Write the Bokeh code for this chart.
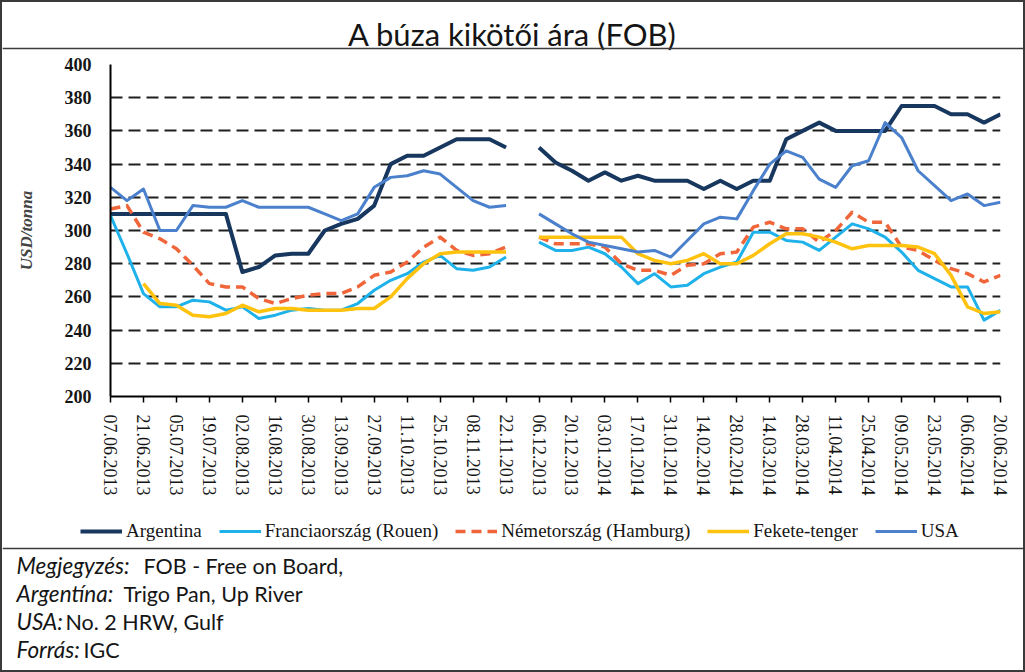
from bokeh.plotting import figure
from bokeh.layouts import column
from bokeh.models import (Range1d, FixedTicker, SingleIntervalTicker, Label, Legend,
                          LegendItem, Span, ColumnDataSource)
from bokeh.embed import file_html
from bokeh.resources import INLINE

nan = float("nan")

dates = [
    "07.06.2013", "14.06.2013", "21.06.2013", "28.06.2013", "05.07.2013", "12.07.2013",
    "19.07.2013", "26.07.2013", "02.08.2013", "09.08.2013", "16.08.2013", "23.08.2013",
    "30.08.2013", "06.09.2013", "13.09.2013", "20.09.2013", "27.09.2013", "04.10.2013",
    "11.10.2013", "18.10.2013", "25.10.2013", "01.11.2013", "08.11.2013", "15.11.2013",
    "22.11.2013", "29.11.2013", "06.12.2013", "13.12.2013", "20.12.2013", "27.12.2013",
    "03.01.2014", "10.01.2014", "17.01.2014", "24.01.2014", "31.01.2014", "07.02.2014",
    "14.02.2014", "21.02.2014", "28.02.2014", "07.03.2014", "14.03.2014", "21.03.2014",
    "28.03.2014", "04.04.2014", "11.04.2014", "18.04.2014", "25.04.2014", "02.05.2014",
    "09.05.2014", "16.05.2014", "23.05.2014", "30.05.2014", "06.06.2014", "13.06.2014",
    "20.06.2014",
]

argentina = [310, 310, 310, 310, 310, 310, 310, 310, 275, 278, 285, 286, 286, 300, 304,
             307, 315, 340, 345, 345, 350, 355, 355, 355, 350, nan, 350, 341, 336, 330,
             335, 330, 333, 330, 330, 330, 325, 330, 325, 330, 330, 355, 360, 365, 360,
             360, 360, 360, 375, 375, 375, 370, 370, 365, 370]

rouen = [309, 286, 262, 254, 254, 258, 257, 252, 254, 247, 249, 252, 253, 252, 252,
         256, 264, 270, 274, 281, 285, 277, 276, 278, 284, nan, 293, 288, 288, 290,
         286, 278, 268, 274, 266, 267, 274, 278, 281, 299, 299, 294, 293, 288, 296,
         304, 301, 296, 287, 276, 271, 266, 266, 246, 252]

hamburg = [313, 315, 299, 295, 289, 279, 268, 266, 266, 259, 256, 259, 261, 262, 262,
           266, 273, 275, 281, 290, 296, 288, 285, 286, 290, nan, 296, 292, 292, 292,
           290, 280, 276, 276, 273, 279, 280, 286, 287, 302, 305, 301, 301, 293, 300,
           311, 305, 305, 290, 288, 282, 277, 274, 269, 273]

fekete = [nan, nan, 268, 256, 255, 249, 248, 250, 255, 251, 253, 253, 252, 252, 252,
          253, 253, 260, 271, 280, 286, 287, 287, 287, 287, nan, 296, 296, 296, 296,
          296, 296, 286, 282, 280, 282, 286, 280, 280, 285, 292, 298, 298, 296, 293,
          289, 291, 291, 291, 290, 286, 273, 254, 250, 251]

usa = [326, 318, 325, 300, 300, 315, 314, 314, 318, 314, 314, 314, 314, 310, 306,
       310, 326, 332, 333, 336, 334, 326, 318, 314, 315, nan, 310, 304, 298, 293,
       291, 289, 287, 288, 284, 294, 304, 308, 307, 324, 340, 348, 344, 331, 326,
       339, 342, 365, 356, 336, 327, 318, 322, 315, 317]

series_names = ["Argentina", "Franciaország (Rouen)", "Németország (Hamburg)",
                "Fekete-tenger", "USA"]
series_colors = ["#17375E", "#1EB1EA", "#F0663A", "#FFC20E", "#4A80CC"]
series_widths = [4, 3, 3.5, 3.5, 3]
series_dashes = ["solid", "solid", "10 6", "solid", "solid"]

title_text = "A búza kikötői ára (FOB)"
y_label = "USD/tonna"
notes = [("Megjegyzés:", "FOB - Free on Board,"),
         ("Argentína:", "Trigo Pan, Up River"),
         ("USA:", "No. 2 HRW, Gulf"),
         ("Forrás:", "IGC")]

W = 1021
TEXT = "#151515"
RULE = "#3a3a3a"


def blank(height):
    f = figure(width=W, height=height, output_backend="svg", toolbar_location=None,
               x_range=Range1d(0, 1), y_range=Range1d(0, 1),
               x_axis_type=None, y_axis_type=None, frame_align=False,
               min_border_left=0, min_border_right=0, min_border_top=0, min_border_bottom=0)
    f.outline_line_color = None
    f.grid.visible = False
    f.background_fill_color = "white"
    f.border_fill_color = "white"
    return f


# ---------- title ----------
pt = blank(50)
pt.add_layout(Label(x=510, y=19, x_units="screen", y_units="screen", text=title_text,
                    text_align="center", text_baseline="middle", text_font="Lato",
                    text_font_size="31px", text_color=TEXT))
pt.add_layout(Span(location=4, dimension="width", location_units="screen",
                   line_color=RULE, line_width=1.5))

# ---------- chart ----------
x_idx = list(range(len(dates)))
src = ColumnDataSource(dict(x=x_idx, argentina=argentina, rouen=rouen, hamburg=hamburg,
                            fekete=fekete, usa=usa))

p = figure(width=W, height=448, output_backend="svg", toolbar_location=None,
           x_range=Range1d(x_idx[0], x_idx[-1]), y_range=Range1d(200, 400),
           frame_align=False,
           min_border_left=108, min_border_right=23, min_border_top=12,
           min_border_bottom=104)
p.background_fill_color = "white"
p.border_fill_color = "white"
p.outline_line_color = None

p.xgrid.visible = False
p.ygrid.grid_line_color = "#1f1f1f"
p.ygrid.grid_line_width = 2
p.ygrid.grid_line_dash = "12 6"
p.yaxis.ticker = SingleIntervalTicker(interval=20)

for ax in (p.xaxis[0], p.yaxis[0]):
    ax.axis_line_color = "black"
    ax.axis_line_width = 2
    ax.major_tick_line_color = "black"
    ax.major_tick_line_width = 1.5
    ax.minor_tick_line_color = None
    ax.major_label_text_color = TEXT

p.yaxis.major_tick_out = 0
p.yaxis.major_tick_in = 0
p.yaxis.major_label_text_font = "Liberation Serif"
p.yaxis.major_label_text_font_style = "bold"
p.yaxis.major_label_text_font_size = "18px"
p.yaxis.major_label_standoff = 15
p.yaxis.axis_label = y_label
p.yaxis.axis_label_text_font = "Liberation Serif"
p.yaxis.axis_label_text_font_style = "bold italic"
p.yaxis.axis_label_text_font_size = "17px"
p.yaxis.axis_label_standoff = 26

tick_pos = x_idx[::2]
p.xaxis.ticker = FixedTicker(ticks=tick_pos)
p.xaxis.major_label_overrides = {i: dates[i] for i in tick_pos}
p.xaxis.major_label_orientation = "vertical"
p.xaxis.major_tick_out = 6
p.xaxis.major_tick_in = 0
p.xaxis.major_label_standoff = 12
p.xaxis.major_label_text_font = "Liberation Serif"
p.xaxis.major_label_text_font_size = "18px"

keys = ["argentina", "rouen", "hamburg", "fekete", "usa"]
for k, c, w, d in zip(keys, series_colors, series_widths, series_dashes):
    p.line("x", k, source=src, line_color=c, line_width=w, line_dash=d, line_join="round")

# ---------- legend + notes ----------
pb = blank(170)
leg_renderers = []
for c, w, d in zip(series_colors, series_widths, series_dashes):
    leg_renderers.append(pb.line(x=[nan], y=[nan], line_color=c, line_width=w, line_dash=d))

legend = Legend(items=[LegendItem(label=n, renderers=[r])
                       for n, r in zip(series_names, leg_renderers)],
                orientation="horizontal", location=(78, 128),
                label_text_font="Liberation Serif", label_text_font_size="19px",
                label_text_color=TEXT,
                glyph_width=42, glyph_height=22, label_standoff=4, spacing=17,
                padding=0, margin=0, border_line_color=None, background_fill_alpha=0)
pb.add_layout(legend, "center")
pb.add_layout(Span(location=122, dimension="width", location_units="screen",
                   line_color=RULE, line_width=1.5))

note_x = 14
note_y = [105, 77, 49, 21]
value_x = [141, 121, 63, 81]
for (lab, txt), ny, vx in zip(notes, note_y, value_x):
    pb.add_layout(Label(x=note_x, y=ny, x_units="screen", y_units="screen", text=lab,
                        text_baseline="middle", text_font="Lato", text_font_style="italic",
                        text_font_size="22.5px", text_color=TEXT))
    pb.add_layout(Label(x=vx, y=ny, x_units="screen", y_units="screen", text=txt,
                        text_baseline="middle", text_font="Lato",
                        text_font_size="21.5px", text_color=TEXT))

layout = column(pt, p, pb, spacing=0,
                styles={"border": "2px solid #3a3a3a"})

open("out.html", "w").write(file_html(layout, INLINE))
